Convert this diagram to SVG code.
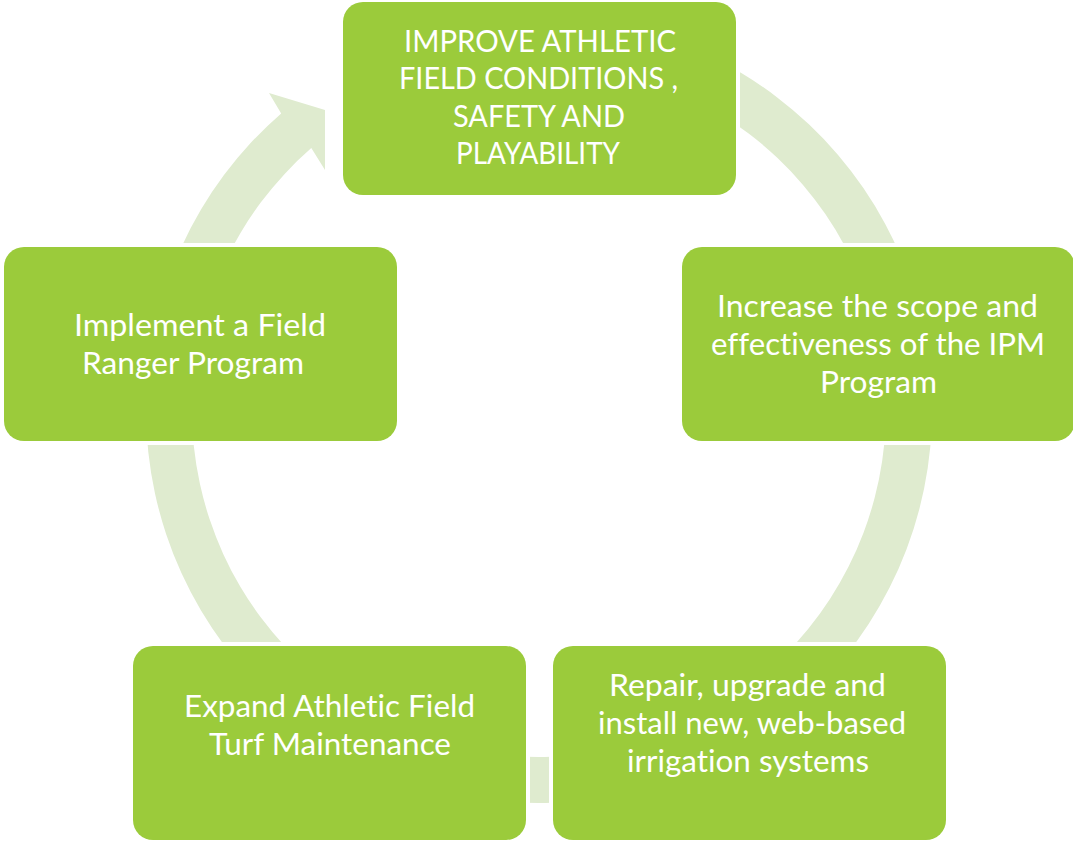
<svg xmlns="http://www.w3.org/2000/svg" width="1073" height="841" viewBox="0 0 1073 841">
<style>
.box{fill:#9BCB3B;stroke:#FFFFFF;stroke-width:8;paint-order:stroke}
.ring{fill:#DFEBCF}
.t{fill:#FFFFFF;font-family:Lato,"Open Sans","Liberation Sans",sans-serif;font-size:31px;font-variant-ligatures:none;font-feature-settings:"liga" 0,"clig" 0}
</style>
<rect width="1073" height="841" fill="#FFFFFF"/>
<g id="connectors">
<path class="ring" d="M 705.1 53.8 A 393 393 0 1 1 281.2 113.4 L 269 93 L 325 110 L 325 170 L 311.3 148.1 A 347 347 0 1 0 685.6 95.5 Z"/>
</g>
<g id="node-top">
<rect class="box" x="343" y="2" width="393" height="193" rx="20"/>
<text class="t" x="404" y="52" textLength="272" lengthAdjust="spacingAndGlyphs">IMPROVE ATHLETIC</text>
<text class="t" x="399" y="89" textLength="279" lengthAdjust="spacingAndGlyphs">FIELD CONDITIONS ,</text>
<text class="t" x="453" y="127" textLength="172" lengthAdjust="spacingAndGlyphs">SAFETY AND</text>
<text class="t" x="456" y="164" textLength="164" lengthAdjust="spacingAndGlyphs">PLAYABILITY</text>
</g>
<g id="node-right">
<rect class="box" x="682" y="247" width="393" height="194" rx="20"/>
<text class="t" x="717" y="317" textLength="321" lengthAdjust="spacingAndGlyphs">Increase the scope and</text>
<text class="t" x="711" y="355" textLength="334" lengthAdjust="spacingAndGlyphs">effectiveness of the IPM</text>
<text class="t" x="820" y="393" textLength="117" lengthAdjust="spacingAndGlyphs">Program</text>
</g>
<g id="node-bottom-right">
<rect class="box" x="553" y="646" width="393" height="194" rx="20"/>
<text class="t" x="609" y="696" textLength="277" lengthAdjust="spacingAndGlyphs">Repair, upgrade and</text>
<text class="t" x="598" y="734" textLength="308" lengthAdjust="spacingAndGlyphs">install new, web-based</text>
<text class="t" x="627" y="772" textLength="242" lengthAdjust="spacingAndGlyphs">irrigation systems</text>
</g>
<g id="node-bottom-left">
<rect class="box" x="133" y="646" width="393" height="194" rx="20"/>
<text class="t" x="184" y="717" textLength="291" lengthAdjust="spacingAndGlyphs">Expand Athletic Field</text>
<text class="t" x="209" y="755" textLength="242" lengthAdjust="spacingAndGlyphs">Turf Maintenance</text>
</g>
<g id="node-left">
<rect class="box" x="4" y="247" width="393" height="194" rx="20"/>
<text class="t" x="74" y="336" textLength="252" lengthAdjust="spacingAndGlyphs">Implement a Field</text>
<text class="t" x="82" y="374" textLength="222" lengthAdjust="spacingAndGlyphs">Ranger Program</text>
</g>
</svg>
